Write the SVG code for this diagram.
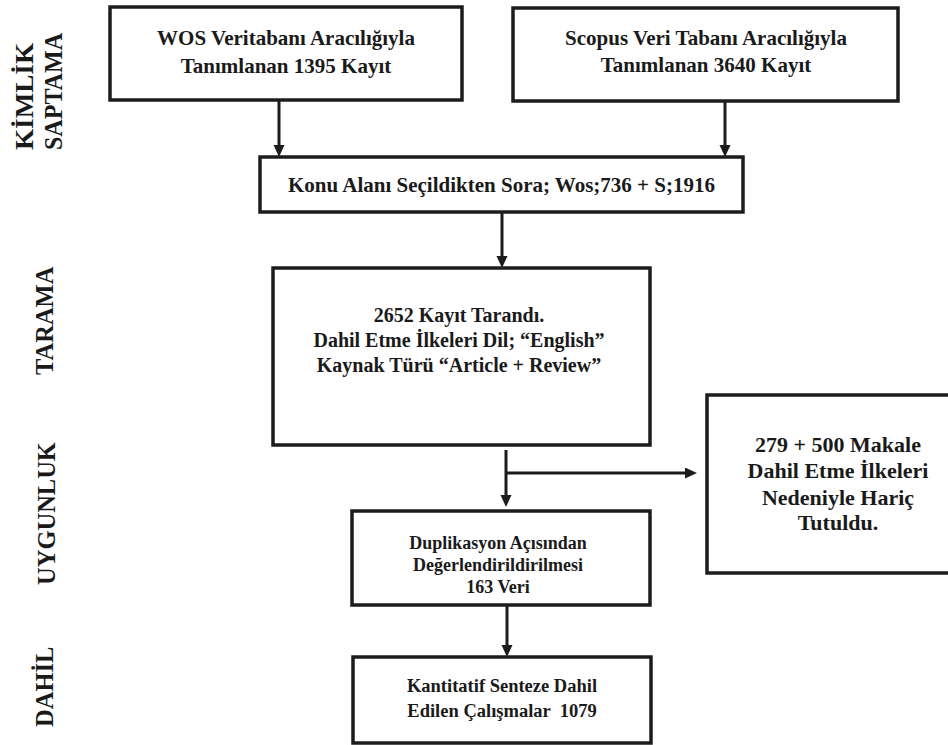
<svg xmlns="http://www.w3.org/2000/svg" width="948" height="745" viewBox="0 0 948 745">
<style>
  .box { fill: #ffffff; stroke: #1c1c1c; stroke-width: 3.5; }
  .t { font-family: 'Liberation Serif', serif; font-weight: bold; fill: #1a1a1a; text-anchor: middle; }
  .lbl { font-family: 'Liberation Serif', serif; font-weight: bold; fill: #1a1a1a; font-size: 24.5px; text-anchor: start; }
  .c { fill: none; stroke: #1c1c1c; stroke-width: 3; }
</style>
<defs>
  <marker id="ah" markerUnits="userSpaceOnUse" markerWidth="13" markerHeight="12" refX="2" refY="5.5" orient="auto">
    <path d="M0,0 L12,5.5 L0,11 z" fill="#1c1c1c"/>
  </marker>
</defs>
<rect width="948" height="745" fill="#ffffff"/>

<g id="phase-labels">
  <text class="lbl" transform="translate(33,150) rotate(-90)" textLength="107" lengthAdjust="spacingAndGlyphs">KİMLİK</text>
  <text class="lbl" transform="translate(62,150) rotate(-90)" textLength="117" lengthAdjust="spacingAndGlyphs">SAPTAMA</text>
  <text class="lbl" transform="translate(53,375) rotate(-90)">TARAMA</text>
  <text class="lbl" transform="translate(55,585) rotate(-90)">UYGUNLUK</text>
  <text class="lbl" transform="translate(53,727) rotate(-90)">DAHİL</text>
</g>

<g id="connectors">
  <path class="c" d="M279,100 V147" marker-end="url(#ah)"/>
  <path class="c" d="M725,101 V147" marker-end="url(#ah)"/>
  <path class="c" d="M502,212 V258" marker-end="url(#ah)"/>
  <path class="c" d="M506,450 V497" marker-end="url(#ah)"/>
  <path class="c" d="M506,473 H687" marker-end="url(#ah)"/>
  <path class="c" d="M507,605 V647" marker-end="url(#ah)"/>
</g>

<g id="node-wos">
  <rect class="box" x="110" y="7" width="352" height="93"/>
  <text class="t" font-size="21" x="286" y="45">WOS Veritabanı Aracılığıyla</text>
  <text class="t" font-size="21" x="286" y="73">Tanımlanan 1395 Kayıt</text>
</g>

<g id="node-scopus">
  <rect class="box" x="513" y="8" width="385" height="93"/>
  <text class="t" font-size="21" x="706" y="45">Scopus Veri Tabanı Aracılığıyla</text>
  <text class="t" font-size="21" x="706" y="72">Tanımlanan 3640 Kayıt</text>
</g>

<g id="node-konu">
  <rect class="box" x="260" y="157" width="483" height="55"/>
  <text class="t" font-size="21" x="501.5" y="192">Konu Alanı Seçildikten Sora; Wos;736 + S;1916</text>
</g>

<g id="node-tarama">
  <rect class="box" x="273" y="268" width="377" height="177"/>
  <text class="t" font-size="20" x="459" y="322">2652 Kayıt Tarandı.</text>
  <text class="t" font-size="20" x="459" y="347">Dahil Etme İlkeleri Dil; “English”</text>
  <text class="t" font-size="20" x="459" y="372">Kaynak Türü “Article + Review”</text>
</g>

<g id="node-haric">
  <rect class="box" x="707" y="395" width="268" height="178"/>
  <text class="t" font-size="22" x="838" y="452">279 + 500 Makale</text>
  <text class="t" font-size="22" x="838" y="478">Dahil Etme İlkeleri</text>
  <text class="t" font-size="22" x="838" y="505">Nedeniyle Hariç</text>
  <text class="t" font-size="22" x="838" y="530">Tutuldu.</text>
</g>

<g id="node-duplikasyon">
  <rect class="box" x="352" y="511" width="298" height="94"/>
  <text class="t" font-size="18" x="498" y="549">Duplikasyon Açısından</text>
  <text class="t" font-size="18" x="498" y="571">Değerlendirildirilmesi</text>
  <text class="t" font-size="18" x="498" y="593">163 Veri</text>
</g>

<g id="node-kantitatif">
  <rect class="box" x="353" y="657" width="298" height="86"/>
  <text class="t" font-size="18.5" x="502" y="692">Kantitatif Senteze Dahil</text>
  <text class="t" font-size="18.5" x="502" y="717" xml:space="preserve">Edilen Çalışmalar  1079</text>
</g>
</svg>
